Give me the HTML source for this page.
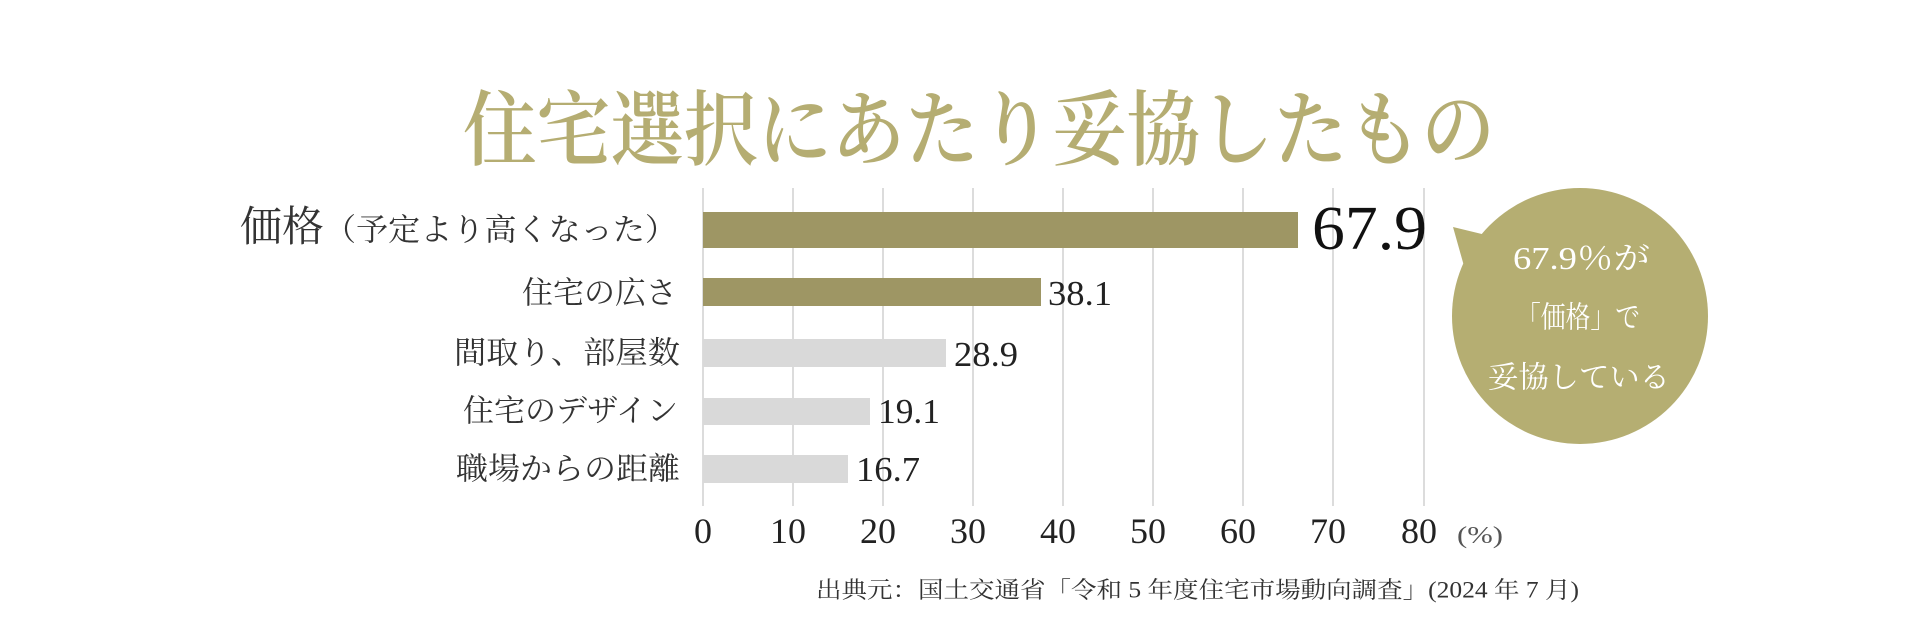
<!DOCTYPE html>
<html><head><meta charset="utf-8"><style>
html,body{margin:0;padding:0;background:#fff;}
svg{display:block;}
.serif{font-family:"Liberation Serif","Noto Serif CJK SC",serif;}
.jp{font-family:"Liberation Serif","Noto Serif CJK SC",serif;}
</style></head><body>
<svg width="1920" height="640" viewBox="0 0 1920 640" xmlns="http://www.w3.org/2000/svg">
<rect width="1920" height="640" fill="#fff"/>
<text class="jp" x="463" y="131" dominant-baseline="central" font-size="82" font-weight="600" fill="#b5ad72" textLength="1032" lengthAdjust="spacingAndGlyphs">住宅選択にあたり妥協したもの</text>
<g stroke="#dcdcdc" stroke-width="2">
<line x1="703" y1="188" x2="703" y2="506"/><line x1="793" y1="188" x2="793" y2="506"/>
<line x1="883" y1="188" x2="883" y2="506"/><line x1="973" y1="188" x2="973" y2="506"/>
<line x1="1063" y1="188" x2="1063" y2="506"/><line x1="1153" y1="188" x2="1153" y2="506"/>
<line x1="1243" y1="188" x2="1243" y2="506"/><line x1="1333" y1="188" x2="1333" y2="506"/>
<line x1="1424" y1="188" x2="1424" y2="506"/>
</g>
<rect x="703" y="212" width="595" height="36" fill="#9e9664"/>
<rect x="703" y="278" width="338" height="28" fill="#9e9664"/>
<rect x="703" y="339" width="243" height="28" fill="#d9d9d9"/>
<rect x="703" y="398" width="167" height="27" fill="#d9d9d9"/>
<rect x="703" y="455" width="145" height="28" fill="#d9d9d9"/>
<g class="serif" fill="#111">
<text x="1312" y="249" font-size="62" textLength="115" lengthAdjust="spacingAndGlyphs">67.9</text>
<text x="1048" y="305" font-size="35" fill="#222" textLength="64" lengthAdjust="spacingAndGlyphs">38.1</text>
<text x="954" y="366" font-size="35" fill="#222" textLength="64" lengthAdjust="spacingAndGlyphs">28.9</text>
<text x="878" y="423" font-size="35" fill="#222" textLength="62" lengthAdjust="spacingAndGlyphs">19.1</text>
<text x="856" y="481" font-size="35" fill="#222" textLength="64" lengthAdjust="spacingAndGlyphs">16.7</text>
</g>
<g class="jp" fill="#333">
<text x="240" y="228" font-size="42" dominant-baseline="central" textLength="84" lengthAdjust="spacingAndGlyphs">価格</text>
<text x="677" y="230" font-size="31" text-anchor="end" dominant-baseline="central" textLength="353" lengthAdjust="spacingAndGlyphs">（予定より高くなった）</text>
<text x="677" y="293" font-size="31" text-anchor="end" dominant-baseline="central">住宅の広さ</text>
<text x="680" y="353" font-size="31" text-anchor="end" dominant-baseline="central" textLength="226" lengthAdjust="spacingAndGlyphs">間取り、部屋数</text>
<text x="678" y="411" font-size="31" text-anchor="end" dominant-baseline="central" textLength="215" lengthAdjust="spacingAndGlyphs">住宅のデザイン</text>
<text x="680" y="469" font-size="31" text-anchor="end" dominant-baseline="central" textLength="224" lengthAdjust="spacingAndGlyphs">職場からの距離</text>
</g>
<g class="serif" fill="#222" font-size="36" text-anchor="middle">
<text x="703" y="543">0</text><text x="788" y="543">10</text><text x="878" y="543">20</text>
<text x="968" y="543">30</text><text x="1058" y="543">40</text><text x="1148" y="543">50</text>
<text x="1238" y="543">60</text><text x="1328" y="543">70</text><text x="1419" y="543">80</text>
</g>
<text class="serif" x="1457" y="543" font-size="24" fill="#555" textLength="46" lengthAdjust="spacingAndGlyphs">(%)</text>
<text class="jp" x="816" y="590" font-size="23" fill="#333" dominant-baseline="central" textLength="763" lengthAdjust="spacingAndGlyphs">出典元：国土交通省「令和 5 年度住宅市場動向調査」(2024 年 7 月)</text>
<circle cx="1580" cy="316" r="128" fill="#b5ae72"/>
<polygon points="1453,227 1490,236 1464,266" fill="#b5ae72"/>
<g class="jp" fill="#fff">
<text x="1513" y="258" font-size="32" dominant-baseline="central" textLength="137" lengthAdjust="spacingAndGlyphs">67.9％が</text>
<text x="1516" y="318" font-size="30" dominant-baseline="central" textLength="124" lengthAdjust="spacingAndGlyphs">「価格」で</text>
<text x="1488" y="378" font-size="30" dominant-baseline="central" textLength="182" lengthAdjust="spacingAndGlyphs">妥協している</text>
</g>
</svg>
</body></html>
